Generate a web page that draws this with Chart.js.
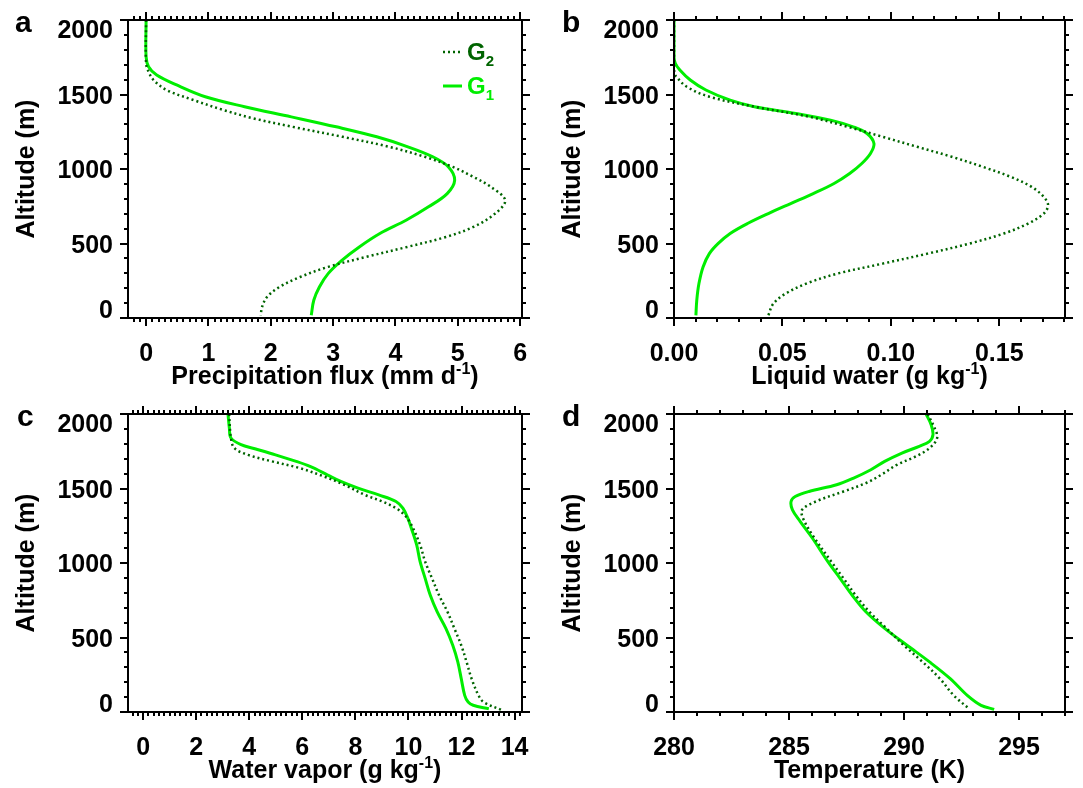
<!DOCTYPE html>
<html>
<head>
<meta charset="utf-8">
<script src="https://cdn.jsdelivr.net/npm/chart.js@4.4.0/dist/chart.umd.min.js"></script>
<style>
  html, body { margin: 0; padding: 0; background: #fff; }
  #wrap { position: relative; width: 1083px; height: 788px; }
  .panel { position: absolute; height: 394px; }
</style>
</head>
<body>
<div id="wrap">
  <div class="panel" style="left:0;top:0;width:541px"><canvas id="pa"></canvas></div>
  <div class="panel" style="left:541px;top:0;width:542px"><canvas id="pb"></canvas></div>
  <div class="panel" style="left:0;top:394px;width:541px"><canvas id="pc"></canvas></div>
  <div class="panel" style="left:541px;top:394px;width:542px"><canvas id="pd"></canvas></div>
</div>
<script>
// ---- data ----
const altTicks = [0, 500, 1000, 1500, 2000];
const altLabels = ['0', '500', '1000', '1500', '2000'];

// a: precipitation flux (mm d-1)
const altA_G1 = [2000, 1754, 1687, 1631, 1564, 1485, 1418, 1350, 1283, 1216, 1149, 1082, 1014, 925, 835, 746, 656, 567, 477, 387, 298, 208, 119, 18];
const precipG1 = [0, 0, 0.04, 0.17, 0.49, 0.95, 1.58, 2.33, 3.05, 3.7, 4.2, 4.6, 4.85, 4.95, 4.83, 4.53, 4.17, 3.75, 3.42, 3.14, 2.92, 2.78, 2.69, 2.65];
const altA_G2 = [2000, 1709, 1653, 1597, 1530, 1463, 1396, 1340, 1283, 1216, 1149, 1082, 1014, 947, 880, 790, 701, 611, 544, 477, 410, 343, 275, 208, 141, 74, 18];
const precipG2 = [0, 0, 0.04, 0.12, 0.33, 0.76, 1.24, 1.72, 2.35, 3.15, 3.9, 4.47, 4.92, 5.25, 5.53, 5.76, 5.6, 5.25, 4.81, 4.19, 3.53, 2.92, 2.47, 2.14, 1.94, 1.86, 1.84];
const precipTicks = [0, 1, 2, 3, 4, 5, 6];
const precipLabels = ['0', '1', '2', '3', '4', '5', '6'];

// b: liquid water (g kg-1)
const altB_G1 = [2000, 1753, 1709, 1664, 1597, 1530, 1462, 1418, 1373, 1328, 1283, 1238, 1171, 1104, 1037, 970, 903, 835, 768, 701, 634, 567, 499, 432, 343, 231, 119, 18];
const liquidG1 = [0, 0, 0.0006, 0.0027, 0.0075, 0.0147, 0.0259, 0.0371, 0.0562, 0.0722, 0.0826, 0.089, 0.0922, 0.0906, 0.0866, 0.081, 0.0738, 0.0642, 0.0538, 0.0435, 0.0339, 0.0259, 0.0203, 0.0163, 0.0134, 0.0115, 0.0105, 0.0101];
const altB_G2 = [2000, 1686, 1642, 1619, 1552, 1485, 1418, 1350, 1283, 1216, 1149, 1082, 1014, 947, 880, 813, 757, 701, 634, 567, 499, 432, 365, 298, 231, 163, 96, 18];
const liquidG2 = [0, 0, 0.0003, 0.0011, 0.0059, 0.0163, 0.0371, 0.0626, 0.0802, 0.0962, 0.1121, 0.1281, 0.1425, 0.1553, 0.1649, 0.1705, 0.1725, 0.1705, 0.1633, 0.1521, 0.1361, 0.1169, 0.0962, 0.0754, 0.061, 0.0514, 0.0458, 0.0435];
const liquidTicks = [0, 0.05, 0.10, 0.15];
const liquidLabels = ['0.00', '0.05', '0.10', '0.15'];

// c: water vapor (g kg-1)
const altC_G1 = [2000, 1906, 1839, 1794, 1767, 1726, 1682, 1648, 1592, 1547, 1502, 1457, 1413, 1368, 1300, 1233, 1121, 1009, 897, 785, 673, 561, 448, 336, 224, 112, 67, 45, 22];
const vaporG1 = [3.2, 3.25, 3.31, 3.69, 4.21, 4.99, 5.77, 6.29, 6.94, 7.45, 8.1, 8.88, 9.53, 9.79, 9.98, 10.11, 10.31, 10.44, 10.63, 10.82, 11.08, 11.41, 11.67, 11.86, 11.99, 12.12, 12.25, 12.44, 13.03];
const altC_G2 = [2000, 1839, 1771, 1726, 1682, 1637, 1581, 1525, 1457, 1413, 1368, 1323, 1256, 1121, 1009, 897, 785, 673, 561, 448, 336, 224, 112, 67, 11];
const vaporG2 = [3.24, 3.31, 3.44, 3.95, 4.86, 5.9, 6.81, 7.58, 8.36, 9.01, 9.53, 9.85, 10.11, 10.44, 10.63, 10.89, 11.15, 11.47, 11.73, 11.99, 12.19, 12.38, 12.64, 12.83, 13.55];
const vaporTicks = [0, 2, 4, 6, 8, 10, 12, 14];
const vaporLabels = ['0', '2', '4', '6', '8', '10', '12', '14'];

// d: temperature (K)
const altD_G1 = [2000, 1928, 1861, 1816, 1783, 1738, 1682, 1626, 1570, 1525, 1480, 1446, 1413, 1357, 1278, 1166, 1009, 897, 785, 673, 561, 448, 336, 224, 112, 45, 18];
const tempG1 = [290.96, 291.18, 291.26, 291.11, 290.66, 289.91, 289.16, 288.56, 287.81, 287.07, 285.87, 285.27, 285.09, 285.15, 285.49, 286.02, 286.69, 287.22, 287.74, 288.34, 289.16, 290.13, 291.11, 292.01, 292.75, 293.35, 293.92];
const altD_G2 = [2000, 1906, 1839, 1771, 1715, 1659, 1592, 1536, 1480, 1413, 1357, 1300, 1188, 1009, 897, 785, 673, 561, 448, 336, 224, 112, 22];
const tempG2 = [291.03, 291.33, 291.44, 291.11, 290.51, 289.69, 289.01, 288.34, 287.37, 286.17, 285.57, 285.61, 286.02, 286.84, 287.37, 287.89, 288.49, 289.24, 289.99, 290.81, 291.56, 292.16, 292.83];
const tempTicks = [280, 285, 290, 295];
const tempLabels = ['280', '285', '290', '295'];

// ---- styling ----
const FAMILY = '"Liberation Sans", Arial, Helvetica, sans-serif';
const LIME = '#00ee00';
const DARK = '#006400';
const fontStr = s => `bold ${s}px ${FAMILY}`;

function pts(xs, ys) { return xs.map((v, i) => ({ x: v, y: ys[i] })); }

function tickValues(min, max, step) {
  const out = [];
  for (let n = Math.ceil(min / step - 1e-6); n * step <= max + 1e-9; n++) out.push(+(n * step).toFixed(6));
  return out;
}

// text with sub/superscript pieces: [text, kind] kind 1 = sup, -1 = sub
function drawRich(ctx, parts, x, y, size, align, color) {
  let w = 0;
  const items = parts.map(([t, k]) => {
    const s = k ? Math.round(size * 0.62) : size;
    ctx.font = fontStr(s);
    const tw = ctx.measureText(t).width;
    w += tw;
    return { t, k, s, tw };
  });
  let cx = align === 'center' ? x - w / 2 : align === 'right' ? x - w : x;
  ctx.textAlign = 'left';
  ctx.textBaseline = 'alphabetic';
  ctx.fillStyle = color;
  items.forEach(it => {
    ctx.font = fontStr(it.s);
    const dy = it.k > 0 ? -size * 0.4 : it.k < 0 ? size * 0.25 : 0;
    ctx.fillText(it.t, cx, y + dy);
    cx += it.tw;
  });
}

const frame = {
  id: 'frame',
  afterDraw(chart, args, o) {
    const { ctx, chartArea: a, scales: { x, y } } = chart;
    ctx.save();
    ctx.strokeStyle = '#000';
    ctx.lineWidth = 2;
    ctx.strokeRect(a.left, a.top, a.right - a.left, a.bottom - a.top);

    const isMajor = (v, list) => list.some(m => Math.abs(m - v) < 1e-6);
    ctx.beginPath();
    tickValues(x.min, x.max, o.xMinor).forEach(v => {
      const p = Math.round(x.getPixelForValue(v));
      const len = isMajor(v, o.xMajor) ? 8 : 4;
      ctx.moveTo(p, a.bottom); ctx.lineTo(p, a.bottom + len);
      ctx.moveTo(p, a.top); ctx.lineTo(p, a.top - len);
    });
    tickValues(y.min, y.max, 100).forEach(v => {
      const p = Math.round(y.getPixelForValue(v));
      const len = isMajor(v, altTicks) ? 8 : 4;
      ctx.moveTo(a.left, p); ctx.lineTo(a.left - len, p);
      ctx.moveTo(a.right, p); ctx.lineTo(a.right + len, p);
    });
    ctx.stroke();

    ctx.font = fontStr(25);
    ctx.fillStyle = '#000';
    ctx.textBaseline = 'alphabetic';
    // altitude tick labels, kept inside the frame height
    ctx.textAlign = 'right';
    altTicks.forEach((v, i) => {
      let p = y.getPixelForValue(v);
      p = Math.min(Math.max(p, a.top + 9), a.bottom - 9);
      ctx.fillText(altLabels[i], a.left - 15, p + 9);
    });
    // x tick labels
    ctx.textAlign = 'center';
    o.xMajor.forEach((v, i) => {
      ctx.fillText(o.xLabels[i], x.getPixelForValue(v), a.bottom + 43);
    });

    // x title
    drawRich(ctx, o.xTitle, (a.left + a.right) / 2, 384, 25, 'center', '#000');

    // panel letter
    ctx.font = fontStr(30);
    ctx.textAlign = 'left';
    ctx.fillStyle = '#000';
    ctx.fillText(o.letter, o.letterX, 32);

    // legend
    if (o.legend) {
      chart.data.datasets.forEach((ds, i) => {
        const base = a.top + 40 + i * 34;
        ctx.beginPath();
        ctx.strokeStyle = ds.borderColor;
        ctx.lineWidth = ds.borderWidth;
        ctx.setLineDash(ds.borderDash || []);
        ctx.moveTo(a.right - 79, base - 8);
        ctx.lineTo(a.right - 60, base - 8);
        ctx.stroke();
        ctx.setLineDash([]);
        drawRich(ctx, [['G', 0], [ds.label.slice(1), -1]], a.right - 55, base, 24, 'left', ds.borderColor);
      });
    }
    ctx.restore();
  }
};

function makePanel(id, p) {
  return new Chart(document.getElementById(id), {
    type: 'scatter',
    data: {
      datasets: [
        { label: 'G2', data: pts(p.g2x, p.g2y), showLine: true, borderColor: DARK, borderWidth: 2.5,
          borderDash: [2, 3], pointRadius: 0, tension: 0.35 },
        { label: 'G1', data: pts(p.g1x, p.g1y), showLine: true, borderColor: LIME, borderWidth: 3,
          pointRadius: 0, tension: 0.35 }
      ]
    },
    options: {
      responsive: true,
      maintainAspectRatio: false,
      animation: false,
      layout: { padding: { top: 20, right: p.padRight, left: 0, bottom: 0 } },
      plugins: {
        legend: { display: false },
        tooltip: { enabled: false },
        frame: { xMinor: p.xMinor, xMajor: p.xTicks, xLabels: p.xLabels, xTitle: p.xTitle,
                 letter: p.letter, letterX: p.letterX, legend: p.legend }
      },
      scales: {
        x: {
          type: 'linear', min: p.xMin, max: p.xMax,
          grid: { display: false }, border: { display: false },
          ticks: { display: false },
          afterFit: s => { s.height = 76; }
        },
        y: {
          type: 'linear', min: 0, max: 2000,
          grid: { display: false }, border: { display: false },
          ticks: { display: false },
          afterFit: s => { s.width = p.yWidth; },
          title: { display: true, text: 'Altitude (m)', color: '#000',
                   font: { family: FAMILY, size: 25, weight: 'bold' },
                   padding: { top: p.yTitlePad, bottom: 0 } }
        }
      }
    },
    plugins: [frame]
  });
}

makePanel('pa', {
  g1x: precipG1, g1y: altA_G1, g2x: precipG2, g2y: altA_G2,
  xMin: -0.29, xMax: 6.03, xTicks: precipTicks, xLabels: precipLabels, xMinor: 0.1,
  xTitle: [['Precipitation flux (mm d', 0], ['-1', 1], [')', 0]],
  letter: 'a', letterX: 15, legend: true, padRight: 19, yWidth: 128, yTitlePad: 12
});
makePanel('pb', {
  g1x: liquidG1, g1y: altB_G1, g2x: liquidG2, g2y: altB_G2,
  xMin: 0, xMax: 0.1803, xTicks: liquidTicks, xLabels: liquidLabels, xMinor: 0.01,
  xTitle: [['Liquid water (g kg', 0], ['-1', 1], [')', 0]],
  letter: 'b', letterX: 21, legend: false, padRight: 18, yWidth: 133, yTitlePad: 17
});
makePanel('pc', {
  g1x: vaporG1, g1y: altC_G1, g2x: vaporG2, g2y: altC_G2,
  xMin: -0.57, xMax: 14.28, xTicks: vaporTicks, xLabels: vaporLabels, xMinor: 0.2,
  xTitle: [['Water vapor (g kg', 0], ['-1', 1], [')', 0]],
  letter: 'c', letterX: 17, legend: false, padRight: 19, yWidth: 128, yTitlePad: 12
});
makePanel('pd', {
  g1x: tempG1, g1y: altD_G1, g2x: tempG2, g2y: altD_G2,
  xMin: 280, xMax: 297, xTicks: tempTicks, xLabels: tempLabels, xMinor: 1,
  xTitle: [['Temperature (K)', 0]],
  letter: 'd', letterX: 21, legend: false, padRight: 18, yWidth: 133, yTitlePad: 17
});
</script>
</body>
</html>
